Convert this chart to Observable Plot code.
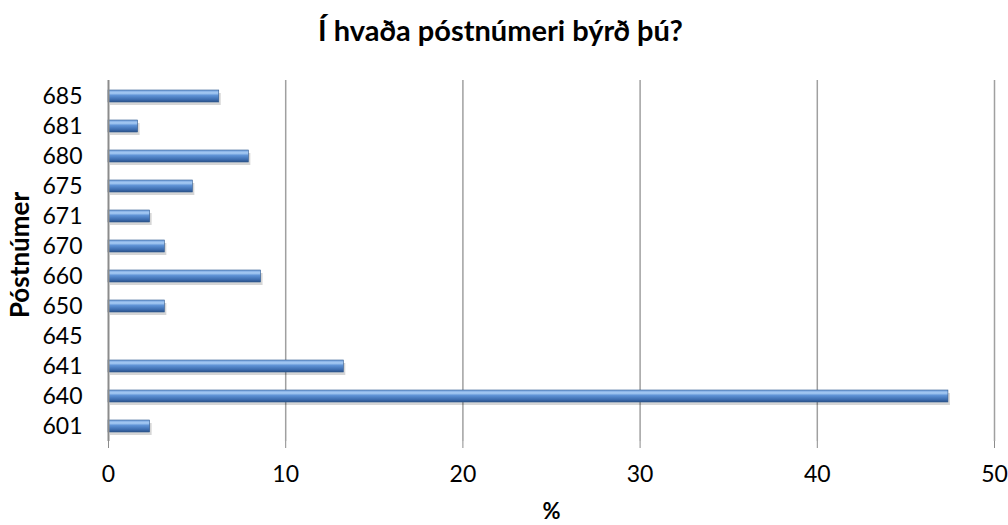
<!DOCTYPE html>
<html><head><meta charset="utf-8">
<script src="https://cdn.jsdelivr.net/npm/d3@7"></script>
<script src="https://cdn.jsdelivr.net/npm/@observablehq/plot@0.6"></script>
<style>body{margin:0;background:#fff}</style>
</head><body><div id="chart"></div>
<script>
const categories = ["685","681","680","675","671","670","660","650","645","641","640","601"];
const values = [6.25, 1.67, 7.92, 4.76, 2.35, 3.18, 8.61, 3.18, 0, 13.28, 47.4, 2.35];
const xTicks = [0, 10, 20, 30, 40, 50];
const title = "Í hvaða póstnúmeri býrð þú?";
const xLabel = "%";
const yLabel = "Póstnúmer";

const data = categories.map((c, i) => ({cat: c, value: values[i]}));
const font = "Lato, 'Open Sans', sans-serif";

const chart = Plot.plot({
  width: 1008, height: 525,
  marginLeft: 108, marginRight: 14, marginTop: 80, marginBottom: 84,
  style: {fontFamily: font, fontSize: "23px", color: "#000", background: "#fff"},
  x: {domain: [0, 50], ticks: xTicks, label: null},
  y: {domain: categories, label: null, paddingInner: 0.6, paddingOuter: 0.3},
  marks: [
    Plot.ruleX(xTicks.slice(1), {stroke: "#a0a0a0", strokeWidth: 1.5}),
    Plot.barX(data.filter(d => d.value > 0), {x: d => d.value, y: "cat", fill: "#000", fillOpacity: 0.16, dx: 2, dy: 3}),
    Plot.barX(data, {x: "value", y: "cat", fill: "url(#barGrad)", stroke: "#2f5a90", strokeWidth: 0.6}),
    Plot.ruleX([0], {stroke: "#8c8c8c", strokeWidth: 2}),
    Plot.ruleY([0], {stroke: "#8c8c8c", strokeWidth: 2}),
    Plot.axisX({ticks: xTicks, tickSize: 7, tickPadding: 17, stroke: "#8c8c8c", fontSize: 23}),
    Plot.axisY({tickSize: 0, tickPadding: 26, fontSize: 23}),
    Plot.text([title], {frameAnchor: "top", lineAnchor: "middle", dy: -49, dx: -51, fontWeight: "bold", fontSize: 29, fill: "#000"}),
    Plot.text([xLabel], {frameAnchor: "bottom", lineAnchor: "middle", dy: 70, dx: 0, fontWeight: "bold", fontSize: 22}),
    Plot.text([yLabel], {frameAnchor: "left", textAnchor: "middle", lineAnchor: "middle", dx: -88, dy: -6, rotate: -90, fontWeight: "bold", fontSize: 26})
  ]
});

const ns = "http://www.w3.org/2000/svg";
const defs = document.createElementNS(ns, "defs");
defs.innerHTML = `<linearGradient id="barGrad" x1="0" y1="0" x2="0" y2="1">
  <stop offset="0" stop-color="#6f9ddb"/>
  <stop offset="0.25" stop-color="#a9cdf5"/>
  <stop offset="0.45" stop-color="#5f93d6"/>
  <stop offset="0.8" stop-color="#3c6cae"/>
  <stop offset="1" stop-color="#2a5189"/>
</linearGradient>`;
chart.insertBefore(defs, chart.firstChild);
document.getElementById("chart").appendChild(chart);
</script>
</body></html>
